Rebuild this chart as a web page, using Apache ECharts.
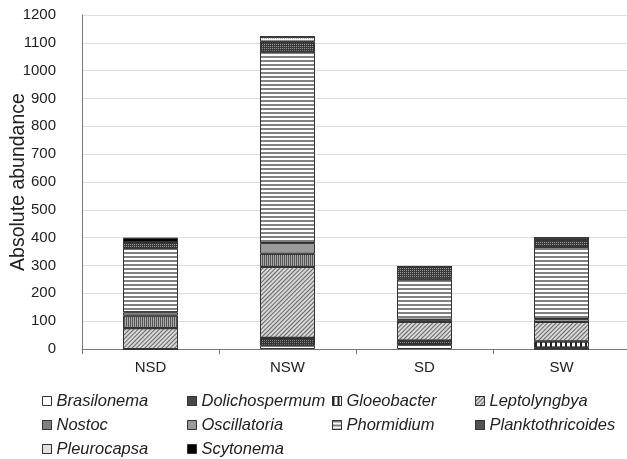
<!DOCTYPE html>
<html><head><meta charset="utf-8">
<script src="https://cdn.jsdelivr.net/npm/echarts@6/dist/echarts.min.js"></script>
<style>html,body{margin:0;padding:0;background:#fff}#c{width:627px;height:459px}</style>
</head><body><div id="c"></div>
<script>
var categories = ['NSD', 'NSW', 'SD', 'SW'];
var yTicks = [0, 100, 200, 300, 400, 500, 600, 700, 800, 900, 1000, 1100, 1200];
var Brasilonema       = [0, 12, 15, 0];
var Dolichospermum    = [0, 28, 15, 5];
var Gloeobacter       = [0, 0, 0, 22];
var Leptolyngbya      = [75, 255, 68, 70];
var Nostoc            = [45, 47, 0, 0];
var Oscillatoria      = [12, 39, 7, 11];
var Phormidium        = [230, 687, 145, 259];
var Planktothricoides = [22, 36, 45, 25];
var Pleurocapsa       = [0, 18, 0, 8];
var Scytonema         = [16, 0, 3, 0];

var names = ['Brasilonema','Dolichospermum','Gloeobacter','Leptolyngbya','Nostoc','Oscillatoria','Phormidium','Planktothricoides','Pleurocapsa','Scytonema'];
var values = [Brasilonema, Dolichospermum, Gloeobacter, Leptolyngbya, Nostoc, Oscillatoria, Phormidium, Planktothricoides, Pleurocapsa, Scytonema];

var styles = {
  Brasilonema: {color:'#ffffff'},
  Dolichospermum: {color:'#333333', decal:{symbol:'rect', color:'#888', dashArrayX:[1,1], dashArrayY:[1,1]}},
  Gloeobacter: {color:'#ffffff', decal:{symbol:'rect', color:'#222', dashArrayX:[1.5,2.5], dashArrayY:[1,0]}},
  Leptolyngbya: {color:'#d8d8d8', decal:{symbol:'rect', color:'#666', dashArrayX:[1,0], dashArrayY:[1,1.8], rotation:-Math.PI/4}},
  Nostoc: {color:'#aaaaaa', decal:{symbol:'rect', color:'#555', dashArrayX:[1,1], dashArrayY:[1,0]}},
  Oscillatoria: {color:'#9a9a9a'},
  Phormidium: {color:'#ffffff', decal:{symbol:'rect', color:'#808080', dashArrayX:[1,0], dashArrayY:[1.6,2]}},
  Planktothricoides: {color:'#3a3a3a', decal:{symbol:'rect', color:'#999', dashArrayX:[1,1], dashArrayY:[1,1]}},
  Pleurocapsa: {color:'#f2f2f2', decal:{symbol:'rect', color:'#aaa', dashArrayX:[1,1], dashArrayY:[1,1]}},
  Scytonema: {color:'#000000'}
};

var series = names.map(function(n, i){
  var s = styles[n];
  var it = {color: s.color, borderColor:'#333', borderWidth:1};
  if (s.decal) it.decal = s.decal;
  return {name:n, type:'bar', stack:'total', barWidth:55, data: values[i], itemStyle: it, emphasis:{disabled:true}};
});

// legend layout: name -> [left, rowCenterY]
var legendPos = {
  Brasilonema:[42,401], Dolichospermum:[187,401], Gloeobacter:[332,401], Leptolyngbya:[475,401],
  Nostoc:[42,425], Oscillatoria:[187,425], Phormidium:[332,425], Planktothricoides:[475,425],
  Pleurocapsa:[42,449], Scytonema:[187,449]
};
var legends = names.map(function(n){
  var p = legendPos[n];
  return {data:[n], orient:'horizontal', left:p[0], top:p[1]-9, padding:0, itemWidth:9, itemHeight:9, itemGap:0,
    itemStyle:{borderColor:'#333', borderWidth:1},
    textStyle:{fontFamily:'Liberation Sans, Arial, sans-serif', fontStyle:'italic', fontSize:16.5, color:'#222', lineHeight:18, height:18},
    icon:'rect', selectedMode:false};
});

var chart = echarts.init(document.getElementById('c'));
chart.setOption({
  animation:false,
  backgroundColor:'#fff',
  grid:{left:82, top:15, width:548, height:334, containLabel:false, outerBoundsMode:'none'},
  legend:legends,
  xAxis:{type:'category', data:categories,
    axisLine:{lineStyle:{color:'#777'}},
    axisTick:{show:true, length:5, lineStyle:{color:'#777'}},
    axisLabel:{fontFamily:'Liberation Sans, Arial, sans-serif', fontSize:15, color:'#222', margin:11}},
  yAxis:{type:'value', min:yTicks[0], max:yTicks[yTicks.length-1], interval:100,
    name:'Absolute abundance', nameLocation:'middle', nameRotate:90, nameGap:53, nameMoveOverlap:false,
    nameTextStyle:{fontFamily:'Liberation Sans, Arial, sans-serif', fontSize:19.5, color:'#222'},
    axisLine:{show:true, lineStyle:{color:'#777'}},
    axisTick:{show:false},
    splitLine:{lineStyle:{color:'#ddd'}},
    axisLabel:{fontFamily:'Liberation Sans, Arial, sans-serif', fontSize:15, color:'#222', margin:26,
      formatter:function(v){return String(v);}}},
  series:series
});
</script></body></html>
